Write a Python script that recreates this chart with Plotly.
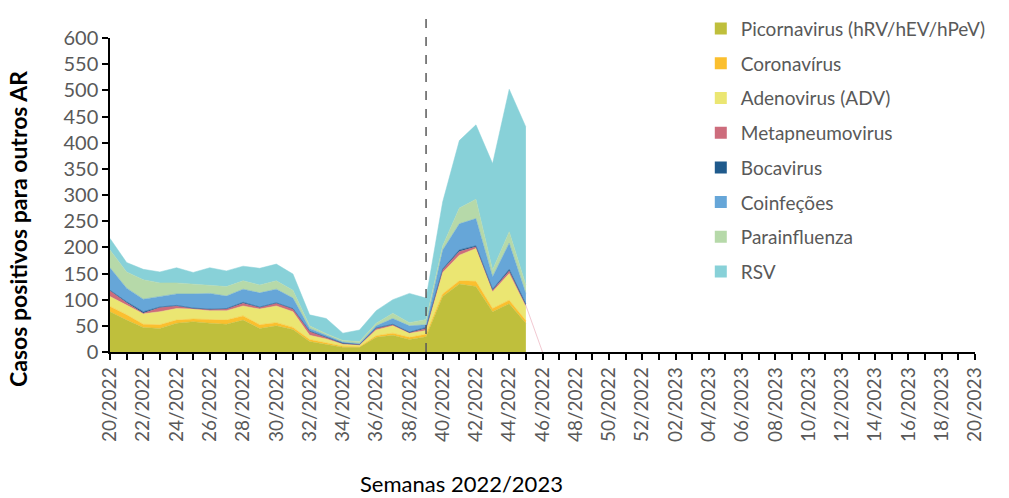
import plotly.graph_objects as go

weeks = [f"{w:02d}/2022" for w in range(20, 53)] + [f"{w:02d}/2023" for w in range(1, 21)]
tick_text = [w if i % 2 == 0 else "" for i, w in enumerate(weeks)]

picornavirus = [77, 61, 47, 45, 55, 58, 55, 53, 61, 45, 50, 43, 20, 14, 9, 9, 28, 32, 24, 29, 106, 130, 125, 77, 92, 55]
coronavirus = [10, 10, 6, 7, 6, 5, 7, 8, 8, 7, 6, 4, 4, 3, 2, 1, 3, 4, 4, 5, 5, 6, 10, 6, 7, 5]
adenovirus = [19, 19, 20, 25, 22, 19, 17, 18, 19, 30, 32, 30, 8, 8, 4, 3, 11, 14, 8, 7, 41, 49, 63, 32, 51, 27]
metapneumovirus = [11, 4, 1, 8, 5, 1, 2, 3, 5, 3, 5, 5, 7, 2, 1, 1, 3, 2, 1, 4, 5, 7, 3, 3, 5, 2]
bocavirus = [1, 2, 3, 1, 1, 1, 1, 1, 2, 1, 1, 1, 1, 1, 1, 1, 1, 1, 1, 2, 2, 3, 2, 2, 3, 3]
coinfeccoes = [43, 26, 24, 20, 22, 27, 30, 24, 25, 27, 26, 20, 5, 4, 2, 1, 4, 11, 12, 5, 36, 50, 52, 24, 50, 20]
parainfluenza = [34, 31, 37, 26, 21, 19, 16, 18, 16, 15, 16, 15, 5, 3, 3, 4, 5, 10, 6, 10, 8, 30, 37, 13, 22, 16]
rsv = [22, 18, 20, 21, 29, 22, 33, 30, 28, 32, 32, 31, 21, 29, 14, 22, 24, 26, 56, 41, 84, 129, 142, 203, 272, 302]

x_title = "Semanas 2022/2023"
y_title = "Casos positivos para outros AR"

series = [
    ("Picornavirus (hRV/hEV/hPeV)", picornavirus, "#BFBF3C"),
    ("Coronavírus", coronavirus, "#FBBF2E"),
    ("Adenovirus (ADV)", adenovirus, "#EBE672"),
    ("Metapneumovirus", metapneumovirus, "#CD6C7C"),
    ("Bocavirus", bocavirus, "#1F5A8C"),
    ("Coinfeções", coinfeccoes, "#66A6D8"),
    ("Parainfluenza", parainfluenza, "#B6D9A9"),
    ("RSV", rsv, "#88D1D8"),
]

fig = go.Figure()
n = len(picornavirus)
xs = weeks[:n]
for i, (name, vals, col) in enumerate(series):
    fig.add_trace(go.Scatter(
        x=xs, y=vals, name=name, mode="lines", stackgroup="one",
        line=dict(width=0.5, color=col), fillcolor=col,
        showlegend=False, hoverinfo="x+y+name",
    ))

# faint trailing line of the Metapneumovirus series down to zero
cum_meta = picornavirus[-1] + coronavirus[-1] + adenovirus[-1] + metapneumovirus[-1]
fig.add_trace(go.Scatter(x=[weeks[n - 1], weeks[n]], y=[cum_meta, 0], mode="lines",
                         line=dict(width=1, color="#F2C9D2"), showlegend=False, hoverinfo="skip"))

# legend entries with square swatches
for i, (name, vals, col) in enumerate(series):
    fig.add_trace(go.Scatter(
        x=[None], y=[None], name=name, mode="markers",
        marker=dict(symbol="square", size=12, color=col),
        legendgroup=f"g{i}", showlegend=True,
    ))

font_family = "Lato, 'Open Sans', sans-serif"

fig.add_shape(type="line", xref="x", yref="paper", x0="39/2022", x1="39/2022",
              y0=0, y1=1.083, line=dict(color="#595959", width=1.5, dash="dash"))

fig.add_annotation(text=x_title, xref="paper", yref="paper", x=0.406, y=-0.418,
                   xanchor="center", yanchor="middle", showarrow=False,
                   font=dict(size=22, color="black", family=font_family))
fig.add_annotation(text=f"<b>{y_title}</b>", xref="paper", yref="paper", x=-0.1064, y=0.392,
                   xanchor="center", yanchor="middle", showarrow=False, textangle=-90,
                   font=dict(size=23, color="black", family=font_family))

fig.update_layout(
    width=1009, height=498,
    margin=dict(l=110, r=34, t=38, b=146, autoexpand=False),
    plot_bgcolor="white", paper_bgcolor="white",
    font=dict(family=font_family, color="#595959"),
    showlegend=True,
    legend=dict(x=0.683, y=1.09, xanchor="left", yanchor="top",
                traceorder="grouped", tracegroupgap=7, maxheight=460,
                font=dict(size=19, color="#595959", family=font_family),
                bgcolor="rgba(0,0,0,0)", itemwidth=30),
    xaxis=dict(
        type="category", categoryorder="array", categoryarray=weeks,
        range=[0, len(weeks) - 1],
        tickmode="array", tickvals=weeks, ticktext=tick_text, tickangle=-90,
        ticks="outside", ticklen=6, tickcolor="black", tickwidth=1.5,
        showline=True, linecolor="black", linewidth=1.5,
        showgrid=False, zeroline=False,
        tickfont=dict(size=19, color="#595959"),
    ),
    yaxis=dict(
        range=[0, 600], dtick=50, tick0=0,
        ticks="outside", ticklen=6, tickcolor="black", tickwidth=1.5,
        showline=True, linecolor="black", linewidth=1.5,
        showgrid=False, zeroline=False,
        tickfont=dict(size=20, color="#595959"),
    ),
)

fig.write_html("out.html", config={"displayModeBar": False},
               post_script="document.body.style.margin='0px';")
